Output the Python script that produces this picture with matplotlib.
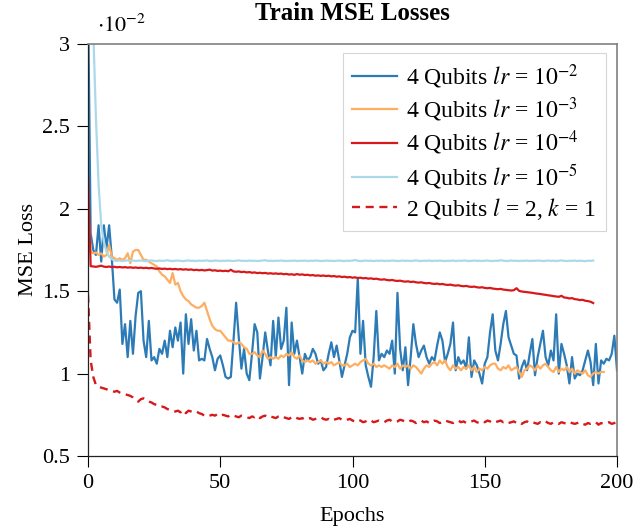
import numpy as np
import matplotlib
matplotlib.use('Agg')
import matplotlib.pyplot as plt

# MSE loss values, in units of 1e-2 (the axis carries the 10^-2 factor)
loss_lr2 = [
    3.30, 1.85, 1.75, 1.72, 1.90, 1.68, 1.90, 1.76, 1.90, 1.70,
    1.45, 1.43, 1.51, 1.18, 1.30, 1.10, 1.32, 1.12, 1.35, 1.49,
    1.50, 1.20, 1.10, 1.32, 1.08, 1.10, 1.06, 1.15, 1.12, 1.20,
    1.10, 1.26, 1.16, 1.28, 1.20, 1.31, 1.00, 1.36, 1.18, 1.33,
    1.14, 1.26, 1.08, 1.09, 1.08, 1.21, 1.15, 1.10, 1.02, 1.09,
    1.11, 1.05, 0.98, 0.97, 0.98, 1.20, 1.43, 1.22, 1.03, 1.15,
    1.00, 0.96, 1.12, 1.30, 1.25, 0.97, 1.10, 1.25, 1.14, 1.05,
    1.32, 1.10, 1.34, 1.15, 1.20, 1.40, 0.93, 1.31, 1.12, 1.20,
    1.10, 1.00, 1.12, 1.08, 1.10, 1.15, 1.12, 1.06, 1.08, 1.02,
    1.04, 1.12, 1.19, 1.10, 1.17, 1.08, 0.98, 1.05, 1.12, 1.22,
    1.26, 1.25, 1.58, 1.12, 1.32, 1.05, 0.98, 0.92, 1.10, 1.38,
    1.08, 1.12, 1.10, 1.14, 1.12, 1.20, 1.00, 1.49, 1.15, 1.02,
    1.16, 0.93, 1.10, 1.30, 1.18, 1.10, 1.14, 1.17, 1.10, 1.06,
    1.10, 1.08, 1.17, 1.25, 1.20, 1.07, 1.12, 1.18, 1.31, 1.02,
    1.10, 1.06, 1.08, 1.03, 1.22, 0.98, 1.08, 1.05, 1.00, 0.94,
    1.06, 1.10, 1.25, 1.36, 1.14, 1.08, 1.18, 1.30, 1.38, 1.22,
    1.17, 1.12, 1.11, 0.97, 1.04, 1.08, 1.02, 1.12, 1.21, 0.99,
    1.10, 1.18, 1.26, 1.10, 1.05, 1.14, 1.08, 1.36, 1.00, 1.18,
    1.12, 1.05, 0.94, 1.10, 0.97, 1.00, 0.99, 1.02, 1.08, 1.14,
    1.07, 0.93, 1.18, 0.94, 1.08, 1.06, 1.09, 1.08, 1.12, 1.23,
    1.02,
]

loss_lr3 = [
    2.02, 1.74, 1.73, 1.735, 1.72, 1.73, 1.71, 1.72, 1.78, 1.71,
    1.70, 1.69, 1.70, 1.69, 1.70, 1.73, 1.67, 1.74, 1.75, 1.75,
    1.72, 1.69, 1.69, 1.68, 1.67, 1.66, 1.65, 1.62, 1.60, 1.59,
    1.57, 1.55, 1.61, 1.54, 1.55, 1.50, 1.47, 1.45, 1.44, 1.42,
    1.41, 1.40, 1.40, 1.41, 1.43, 1.38, 1.33, 1.29, 1.27, 1.26,
    1.26, 1.24, 1.22, 1.20, 1.20, 1.19, 1.18, 1.19, 1.18, 1.16,
    1.15, 1.12, 1.12, 1.13, 1.11, 1.10, 1.14, 1.12, 1.09, 1.10,
    1.09, 1.10, 1.09, 1.11, 1.10, 1.12, 1.11, 1.13, 1.10, 1.09,
    1.11, 1.08, 1.07, 1.08, 1.07, 1.08, 1.06, 1.07, 1.08, 1.06,
    1.07, 1.06, 1.07, 1.05, 1.06, 1.07, 1.05, 1.05, 1.06, 1.04,
    1.05, 1.06, 1.05, 1.07, 1.08, 1.09, 1.06, 1.05, 1.06, 1.04,
    1.05, 1.04, 1.05, 1.04, 1.03, 1.05, 1.04, 1.06, 1.03, 1.05,
    1.04, 1.05, 1.03, 1.05, 1.04, 1.02, 1.00, 1.03, 1.05, 1.04,
    1.06, 1.07, 1.05, 1.08, 1.06, 1.08, 1.04, 1.02, 1.05, 1.03,
    1.04, 1.02, 1.04, 1.03, 1.05, 1.02, 1.04, 1.01, 1.03, 1.02,
    1.04, 1.03, 1.05, 1.06, 1.06, 1.03, 1.02, 1.04, 1.03, 1.05,
    1.02, 1.03, 1.04, 1.01, 0.98, 1.02, 1.03, 1.05, 1.04, 1.02,
    1.05, 1.03, 1.05, 1.06, 1.04, 1.02, 1.01, 1.04, 1.01, 1.03,
    1.02, 1.04, 1.01, 1.03, 1.00, 1.02, 1.01, 1.00, 1.02, 0.99,
    0.98, 1.00, 1.01, 1.00, 1.01, 1.01,
]

loss_lr4 = [
    2.20, 1.652, 1.650, 1.648, 1.651, 1.655, 1.649, 1.647, 1.650, 1.646,
    1.648, 1.645, 1.647, 1.644, 1.646, 1.643, 1.645, 1.642, 1.644, 1.641,
    1.643, 1.640, 1.642, 1.639, 1.641, 1.638, 1.636, 1.638, 1.635, 1.637,
    1.634, 1.636, 1.633, 1.635, 1.632, 1.634, 1.631, 1.633, 1.630, 1.632,
    1.628, 1.630, 1.627, 1.629, 1.626, 1.628, 1.631, 1.625, 1.627, 1.623,
    1.625, 1.622, 1.624, 1.621, 1.630, 1.620, 1.618, 1.620, 1.616, 1.618,
    1.614, 1.616, 1.612, 1.614, 1.610, 1.612, 1.609, 1.611, 1.607, 1.609,
    1.606, 1.608, 1.605, 1.607, 1.603, 1.605, 1.601, 1.603, 1.599, 1.604,
    1.600, 1.602, 1.598, 1.600, 1.596, 1.598, 1.594, 1.596, 1.593, 1.595,
    1.592, 1.594, 1.590, 1.592, 1.588, 1.590, 1.586, 1.588, 1.584, 1.586,
    1.582, 1.584, 1.580, 1.582, 1.578, 1.580, 1.576, 1.578, 1.574, 1.576,
    1.572, 1.570, 1.572, 1.568, 1.566, 1.568, 1.564, 1.562, 1.564, 1.560,
    1.558, 1.560, 1.556, 1.558, 1.554, 1.552, 1.554, 1.550, 1.548, 1.550,
    1.546, 1.544, 1.546, 1.542, 1.544, 1.540, 1.538, 1.540, 1.536, 1.534,
    1.536, 1.532, 1.530, 1.532, 1.528, 1.526, 1.528, 1.524, 1.522, 1.524,
    1.520, 1.518, 1.520, 1.516, 1.514, 1.512, 1.514, 1.510, 1.508, 1.506,
    1.504, 1.506, 1.518, 1.502, 1.498, 1.496, 1.494, 1.492, 1.490, 1.487,
    1.485, 1.483, 1.480, 1.478, 1.475, 1.473, 1.470, 1.468, 1.466, 1.472,
    1.462, 1.460, 1.456, 1.458, 1.452, 1.450, 1.446, 1.448, 1.442, 1.440,
    1.436, 1.428,
]

loss_lr5 = [
    4.00, 3.60, 3.08, 2.55, 2.15, 1.90, 1.80, 1.74, 1.71, 1.695,
    1.685, 1.684, 1.686, 1.683, 1.685, 1.687, 1.684, 1.686, 1.683, 1.685,
    1.686, 1.684, 1.682, 1.685, 1.687, 1.684, 1.683, 1.686, 1.684, 1.685,
    1.688, 1.684, 1.683, 1.685, 1.686, 1.684, 1.682, 1.685, 1.687, 1.684,
    1.685, 1.683, 1.686, 1.684, 1.685, 1.687, 1.683, 1.684, 1.686, 1.685,
    1.683, 1.685, 1.684, 1.686, 1.684, 1.683, 1.685, 1.687, 1.684, 1.685,
    1.683, 1.686, 1.684, 1.685, 1.683, 1.684, 1.686, 1.688, 1.684, 1.685,
    1.683, 1.685, 1.684, 1.686, 1.684, 1.683, 1.685, 1.684, 1.686, 1.683,
    1.685, 1.684, 1.686, 1.683, 1.685, 1.684, 1.686, 1.685, 1.683, 1.684,
    1.686, 1.684, 1.685, 1.683, 1.685, 1.686, 1.684, 1.683, 1.685, 1.684,
    1.686, 1.689, 1.685, 1.683, 1.684, 1.686, 1.684, 1.685, 1.683, 1.685,
    1.684, 1.686, 1.683, 1.685, 1.684, 1.686, 1.685, 1.683, 1.684, 1.686,
    1.684, 1.685, 1.683, 1.685, 1.687, 1.684, 1.683, 1.685, 1.684, 1.686,
    1.683, 1.685, 1.684, 1.686, 1.684, 1.683, 1.685, 1.684, 1.686, 1.683,
    1.685, 1.684, 1.686, 1.685, 1.683, 1.684, 1.686, 1.684, 1.685, 1.683,
    1.685, 1.686, 1.684, 1.683, 1.685, 1.684, 1.688, 1.685, 1.683, 1.684,
    1.686, 1.684, 1.685, 1.683, 1.685, 1.684, 1.686, 1.683, 1.685, 1.684,
    1.686, 1.685, 1.683, 1.684, 1.686, 1.684, 1.685, 1.683, 1.685, 1.687,
    1.684, 1.683, 1.685, 1.684, 1.686, 1.683, 1.685, 1.684, 1.682, 1.685,
    1.684, 1.686,
]

loss_2q = [
    1.48, 1.08, 0.98, 0.93, 0.92, 0.915, 0.91, 0.905, 0.90, 0.895,
    0.89, 0.895, 0.885, 0.88, 0.875, 0.87, 0.865, 0.855, 0.84, 0.83,
    0.845, 0.85, 0.84, 0.83, 0.825, 0.815, 0.81, 0.80, 0.80, 0.795,
    0.785, 0.78, 0.775, 0.77, 0.775, 0.765, 0.78, 0.76, 0.775, 0.77,
    0.765, 0.77, 0.76, 0.755, 0.745, 0.74, 0.745, 0.75, 0.745, 0.755,
    0.745, 0.75, 0.745, 0.74, 0.75, 0.745, 0.74, 0.735, 0.745, 0.74,
    0.735, 0.73, 0.74, 0.735, 0.745, 0.73, 0.74, 0.745, 0.735, 0.74,
    0.735, 0.73, 0.74, 0.745, 0.735, 0.73, 0.725, 0.735, 0.74, 0.73,
    0.725, 0.73, 0.72, 0.725, 0.73, 0.72, 0.725, 0.73, 0.735, 0.725,
    0.72, 0.725, 0.715, 0.72, 0.725, 0.73, 0.72, 0.715, 0.72, 0.725,
    0.715, 0.71, 0.72, 0.715, 0.705, 0.71, 0.72, 0.715, 0.705, 0.71,
    0.715, 0.71, 0.705, 0.715, 0.72, 0.71, 0.705, 0.71, 0.72, 0.715,
    0.71, 0.705, 0.715, 0.71, 0.70, 0.71, 0.715, 0.705, 0.71, 0.70,
    0.705, 0.715, 0.71, 0.70, 0.705, 0.715, 0.71, 0.705, 0.70, 0.71,
    0.715, 0.705, 0.71, 0.70, 0.705, 0.71, 0.715, 0.705, 0.70, 0.71,
    0.705, 0.715, 0.71, 0.70, 0.705, 0.71, 0.715, 0.705, 0.71, 0.70,
    0.705, 0.71, 0.70, 0.705, 0.695, 0.705, 0.71, 0.70, 0.705, 0.70,
    0.695, 0.705, 0.70, 0.71, 0.70, 0.695, 0.705, 0.70, 0.695, 0.705,
    0.70, 0.695, 0.705, 0.70, 0.695, 0.70, 0.705, 0.695, 0.69, 0.70,
    0.695, 0.70, 0.705, 0.69, 0.70, 0.695, 0.70, 0.705, 0.695, 0.70,
    0.71,
]

labels = [
    r'4 Qubits $lr$ = $10^{-2}$',
    r'4 Qubits $lr$ = $10^{-3}$',
    r'4 Qubits $lr$ = $10^{-4}$',
    r'4 Qubits $lr$ = $10^{-5}$',
    r'2 Qubits $l$ = 2, $k$ = 1',
]
colors = ['#2c7bb6', '#fdae61', '#d7191c', '#abd9e9', '#d7191c']

x_ticks = [0, 50, 100, 150, 200]
y_ticks = [0.5, 1, 1.5, 2, 2.5, 3]
y_ticklabels = ['0.5', '1', '1.5', '2', '2.5', '3']

plt.rcParams['font.family'] = ['Liberation Serif', 'DejaVu Serif']
plt.rcParams['mathtext.fontset'] = 'stix'
plt.rcParams['font.size'] = 16

fig = plt.figure(figsize=(6.33, 5.31), dpi=100)
ax = fig.add_axes([88 / 633, 1 - 456 / 531, 529 / 633, 412 / 531])

series = [loss_lr2, loss_lr3, loss_lr4, loss_lr5]
for vals, lab, col in zip(series, labels[:4], colors[:4]):
    ax.plot(np.arange(len(vals)), vals, color=col, lw=1.6, label=lab)
ax.plot(np.arange(len(loss_2q)), loss_2q, color=colors[4], lw=1.7,
        dashes=(3.4, 2.4), label=labels[4])

ax.set_xlim(0, 200)
ax.set_ylim(0.5, 3)
ax.set_xticks(x_ticks)
ax.set_yticks(y_ticks)
ax.set_yticklabels(y_ticklabels)
ax.tick_params(direction='out', length=8, width=0.8, pad=5, labelsize=16,
               top=False, right=False)

for side in ['left', 'bottom']:
    ax.spines[side].set_color('#222222')
    ax.spines[side].set_linewidth(0.9)
for side in ['top', 'right']:
    ax.spines[side].set_color('#808080')
    ax.spines[side].set_linewidth(1.2)

ax.set_xlabel('Epochs', fontsize=16, labelpad=10)
ax.set_ylabel('MSE Loss', fontsize=16, labelpad=3)
ax.set_title('Train MSE Losses', fontsize=18, fontweight='bold', pad=17)
ax.text(0.017, 1.03, r'$\cdot10^{-2}$', transform=ax.transAxes,
        fontsize=16, ha='left', va='baseline')

leg = ax.legend(loc='upper right', bbox_to_anchor=(0.979, 0.979),
                borderaxespad=0, frameon=True, fancybox=False,
                handlelength=1.9, handletextpad=0.4, labelspacing=0.2,
                fontsize=17, borderpad=0.4)
leg.get_frame().set_edgecolor('#cccccc')
leg.get_frame().set_linewidth(0.8)

fig.savefig('out.png', dpi=100)
